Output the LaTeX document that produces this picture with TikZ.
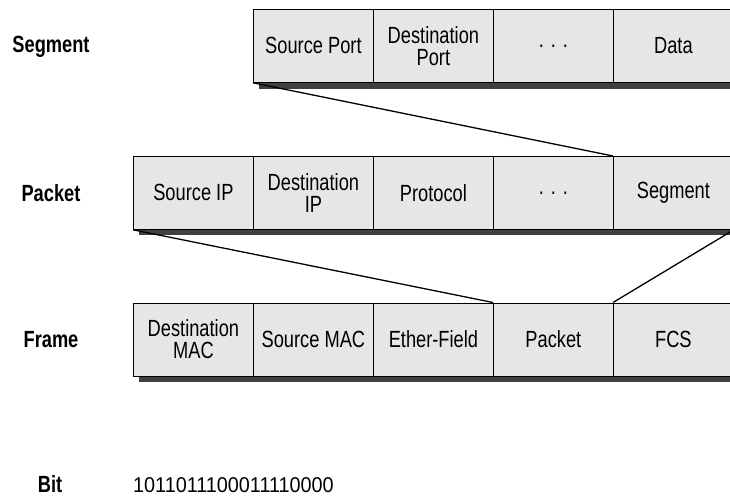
\documentclass[tikz,border=0pt]{standalone}
\usepackage{fontspec}
\setmainfont{Liberation Sans}[FakeStretch=0.78]
\newfontfamily\bitfam{Liberation Sans}[FakeStretch=0.925]
\definecolor{cellgray}{HTML}{E6E6E6}
\definecolor{shadowgray}{HTML}{404040}
\newcommand{\cellfont}{\fontsize{23.5}{21.7}\selectfont}
\newcommand{\labelfont}{\fontsize{23.5}{21.7}\selectfont\bfseries}
\newcommand{\bitfont}{\bitfam\fontsize{21.5}{21.5}\selectfont}
\newcommand{\dotsdots}{.\hspace{7bp}.\hspace{7bp}.}
\begin{document}
\begin{tikzpicture}[x=1bp,y=-1bp,
  cell/.style={draw=black, line width=0.8bp, fill=cellgray, minimum width=120bp,
    minimum height=73bp, inner sep=0pt, anchor=north west, align=center, font=\cellfont},
  rowlabel/.style={font=\labelfont, anchor=center, inner sep=0pt},
  shadowbar/.style={fill=shadowgray, draw=none},
  link/.style={line width=1.3bp}]
\useasboundingbox (0,0) rectangle (730,496);
\clip (0,0) rectangle (730,496);
% shadows
\fill[shadowbar] (259,82) rectangle (733,89);
\fill[shadowbar] (139,228.5) rectangle (733,235.5);
\fill[shadowbar] (139,375) rectangle (733,382);
% segment row
\node[cell] (s1) at (253,9) {Source Port};
\node[cell] (s2) at (373,9) {Destination\\Port};
\node[cell] (s3) at (493,9) {\dotsdots};
\node[cell] (s4) at (613,9) {Data};
% packet row
\node[cell] (p1) at (133,156) {Source IP};
\node[cell] (p2) at (253,156) {Destination\\IP};
\node[cell] (p3) at (373,156) {Protocol};
\node[cell] (p4) at (493,156) {\dotsdots};
\node[cell] (p5) at (613,156) {Segment};
% frame row
\node[cell] (f1) at (133,302.5) {Destination\\MAC};
\node[cell] (f2) at (253,302.5) {Source MAC};
\node[cell] (f3) at (373,302.5) {Ether-Field};
\node[cell] (f4) at (493,302.5) {Packet};
\node[cell] (f5) at (613,302.5) {FCS};
% links
\draw[link] (s1.south west) -- (p5.north west);
\draw[link] (p1.south west) -- (f4.north west);
\draw[link] (p5.south east) -- (f5.north west);
% labels
\node[rowlabel] (lseg) at (51,47) {Segment};
\node[rowlabel] (lpkt) at (51,193) {Packet};
\node[rowlabel] (lfrm) at (51,340) {Frame};
\node[rowlabel, anchor=base] (lbit) at (50,492) {Bit};
\node[font=\bitfont, anchor=base west, inner sep=0pt] (bits) at (133,492) {1011011100011110000};
\end{tikzpicture}
\end{document}
